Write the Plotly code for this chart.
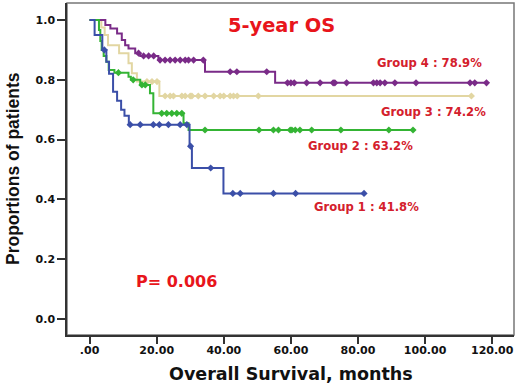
import numpy as np
import plotly.graph_objects as go

# ---- data ----
groups = ["Group 1", "Group 2", "Group 3", "Group 4"]

g1_times = [0, 1.5, 3.8, 5.0, 5.8, 7.0, 8.2, 9.4, 10.4, 11.7, 29.8, 30.5, 39.9]
g1_surv = [1.0, 0.95, 0.90, 0.86, 0.82, 0.76, 0.73, 0.70, 0.68, 0.65, 0.578, 0.505, 0.42]
g1_cens = [4.4, 12.1, 15.1, 19.0, 20.8, 23.5, 27.0, 29.0, 30.1, 36.1, 42.7, 44.9, 54.8, 61.4, 81.8]

g2_times = [0, 2.8, 3.2, 3.6, 4.2, 5.0, 5.7, 7.4, 11.6, 12.3, 15.1, 18.0, 19.0, 28.0, 29.5]
g2_surv = [1.0, 0.967, 0.93, 0.90, 0.88, 0.86, 0.833, 0.824, 0.81, 0.80, 0.783, 0.755, 0.688, 0.655, 0.632]
g2_cens = [8.6, 13.0, 15.6, 16.6, 21.5, 23.0, 24.5, 26.0, 27.5, 34.4, 50.5, 54.8, 56.3,
           59.8, 60.3, 61.3, 62.7, 66.2, 74.9, 89.2, 96.4]

g3_times = [0, 3.5, 4.5, 5.5, 8.8, 11.6, 12.6, 14.1, 20.8]
g3_surv = [1.0, 0.975, 0.95, 0.916, 0.889, 0.855, 0.822, 0.794, 0.746]
g3_cens = [17.1, 18.6, 20.1, 22.5, 24.0, 25.0, 27.5, 28.5, 30.0, 30.5, 32.4, 34.4,
           37.0, 38.9, 40.0, 41.9, 42.9, 44.0, 50.3, 113.8]

g4_times = [0, 4.7, 6.2, 8.2, 9.6, 10.6, 11.6, 13.6, 15.1, 20.5, 34.4, 55.3]
g4_surv = [1.0, 0.983, 0.972, 0.955, 0.933, 0.916, 0.905, 0.889, 0.88, 0.866, 0.827, 0.79]
g4_cens = [14.6, 16.1, 17.6, 19.1, 21.0, 22.5, 24.0, 25.5, 27.0, 28.5, 29.5, 31.0, 33.9,
           41.9, 43.9, 52.8, 59.0, 60.0, 61.0, 64.7, 68.7, 72.6, 73.1, 76.6, 84.6, 85.6,
           86.6, 88.0, 91.0, 97.3, 113.4, 114.8, 118.3]

group_labels = ["Group 1 : 41.8%", "Group 2 : 63.2%", "Group 3 : 74.2%", "Group 4 : 78.9%"]
x_tickvals = [0, 20, 40, 60, 80, 100, 120]
x_ticktext = [".00", "20.00", "40.00", "60.00", "80.00", "100.00", "120.00"]
y_tickvals = [0.0, 0.2, 0.4, 0.6, 0.8, 1.0]

colors = ["#3b4fa8", "#34b434", "#e2d6a2", "#7a2b88"]
label_red = "#d4202c"

series = [
    (g1_times, g1_surv, g1_cens),
    (g2_times, g2_surv, g2_cens),
    (g3_times, g3_surv, g3_cens),
    (g4_times, g4_surv, g4_cens),
]

fig = go.Figure()
draw_order = [2, 3, 1, 0]
for i in draw_order:
    t, s, c = series[i]
    t = np.array(t, dtype=float)
    s = np.array(s, dtype=float)
    c = np.array(c, dtype=float)
    t_end = max(t.max(), c.max())
    xs = np.append(t, t_end)
    ys = np.append(s, s[-1])
    fig.add_trace(go.Scatter(x=xs, y=ys, mode="lines", line=dict(color=colors[i], width=2, shape="hv"),
                             name=groups[i], showlegend=False, hoverinfo="skip"))
    idx = np.searchsorted(t, c, side="right") - 1
    cy = s[idx]
    fig.add_trace(go.Scatter(x=c, y=cy, mode="markers",
                             marker=dict(symbol="diamond", size=5.5, color=colors[i]),
                             showlegend=False, hoverinfo="skip"))

font_b = "DejaVu Sans"
label_pos = [(82.6, 0.374), (80.6, 0.579), (102.4, 0.691), (101.3, 0.855)]
annotations = []
for lab, (ax, ay) in zip(group_labels, label_pos):
    annotations.append(dict(x=ax, y=ay, xref="x", yref="y", text="<b>%s</b>" % lab, showarrow=False,
                            font=dict(family=font_b, size=11.6, color=label_red)))
annotations.append(dict(x=57.1, y=0.983, xref="x", yref="y", text="<b>5-year OS</b>", showarrow=False,
                        font=dict(family=font_b, size=19.4, color="#e8151b")))
annotations.append(dict(x=25.8, y=0.127, xref="x", yref="y", text="<b>P= 0.006</b>", showarrow=False,
                        font=dict(family=font_b, size=16, color="#e8151b")))
annotations.append(dict(x=0.5, y=0, xref="paper", yref="paper", yanchor="middle", yshift=-39,
                        text="<b>Overall Survival, months</b>", showarrow=False,
                        font=dict(family=font_b, size=17.5, color="#111111")))
annotations.append(dict(x=0, y=0.5, xref="paper", yref="paper", xanchor="center", xshift=-54,
                        textangle=-90, text="<b>Proportions of patients</b>", showarrow=False,
                        font=dict(family="Liberation Sans Narrow, Arial Narrow, Liberation Sans", size=17.5,
                                  color="#111111")))

fig.update_layout(
    width=520, height=389,
    margin=dict(l=67, r=6, t=3, b=54),
    paper_bgcolor="white", plot_bgcolor="white",
    annotations=annotations,
    shapes=[dict(type="rect", xref="paper", yref="paper", x0=0, y0=0, x1=1, y1=1,
                 line=dict(color="#777777", width=1.5), layer="below")],
)
fig.update_xaxes(range=[-6.73, 126.5], tickvals=x_tickvals, ticktext=x_ticktext, automargin=False,
                 showgrid=False, zeroline=False, showline=True, linecolor="#333333", linewidth=1.5,
                 ticks="outside", ticklen=7, tickcolor="#333333", tickwidth=1.5,
                 ticklabelstandoff=-3,
                 tickfont=dict(family=font_b, size=11, color="#111111", weight="bold"))
fig.update_yaxes(range=[-0.0535, 1.0569], tickvals=y_tickvals, tickformat=".1f", automargin=False,
                 showgrid=False, zeroline=False, showline=True, linecolor="#333333", linewidth=1.5,
                 ticks="outside", ticklen=8, tickcolor="#333333", tickwidth=1.5,
                 tickfont=dict(family=font_b, size=11, color="#111111", weight="bold"))

fig.write_html("out.html", config={"displayModeBar": False},
               post_script="document.body.style.margin='0';")
